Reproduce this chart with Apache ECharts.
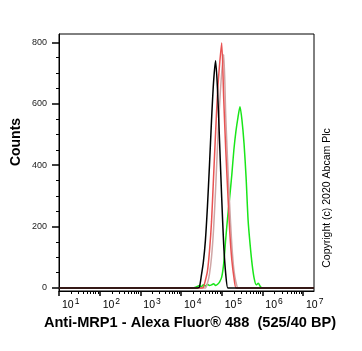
<!DOCTYPE html>
<html>
<head>
<meta charset="utf-8">
<script src="https://cdn.jsdelivr.net/npm/echarts@6/dist/echarts.min.js"></script>
<style>
  html, body { margin: 0; padding: 0; background: #fff; }
  #chart { width: 362px; height: 351px; }
</style>
</head>
<body>
<div id="chart"></div>
<script>
// histogram overlay, x in log10(fluorescence) units
var bins = [1.00, 4.30, 4.35, 4.40, 4.45, 4.50, 4.55, 4.60, 4.65, 4.70, 4.75, 4.80, 4.85, 4.90, 4.95,
  5.00, 5.05, 5.10, 5.15, 5.20, 5.25, 5.30, 5.35, 5.40, 5.45, 5.50, 5.55, 5.60, 5.65, 5.70,
  5.75, 5.80, 5.85, 5.90, 5.95, 6.00, 6.05, 6.10, 6.15, 6.20, 7.27];

var blackCounts = [0, 0, 0, 0, 2, 40, 85, 155, 265, 400, 545, 670, 740, 640, 470,
  295, 140, 45, 0, 0, 0, 0, 0, 0, 0, 0, 0, 0, 0, 0,
  0, 0, 0, 0, 0, 0, 0, 0, 0, 0, 0];
var redCounts = [0, 0, 0, 0, 0, 0, 2, 25, 55, 120, 215, 360, 505, 640, 730,
  798, 615, 450, 310, 180, 90, 35, 0, 0, 0, 0, 0, 0, 0, 0,
  0, 0, 0, 0, 0, 0, 0, 0, 0, 0, 0];
var greyCounts = [0, 0, 0, 0, 0, 0, 0, 0, 15, 45, 100, 190, 320, 470, 600,
  700, 760, 560, 400, 260, 140, 60, 20, 0, 0, 0, 0, 0, 0, 0,
  0, 0, 0, 0, 0, 0, 0, 0, 0, 0, 0];
var greenCounts = [0, 0, 2, 5, 8, 4, 10, 6, 12, 8, 10, 14, 8, 12, 20,
  35, 80, 160, 235, 300, 370, 450, 510, 555, 590, 545, 470, 360, 220, 140,
  75, 30, 10, 15, 5, 0, 0, 0, 0, 0, 0];

var decades = [1, 2, 3, 4, 5, 6, 7];
var yMajor = [0, 200, 400, 600, 800];
var yMinor = [50, 100, 150, 250, 300, 350, 450, 500, 550, 650, 700, 750];

var xMinor = [];
decades.forEach(function (d) {
  for (var k = 2; k <= 9; k++) {
    var v = d + Math.log10(k);
    if (v <= 7.27) xMinor.push(v);
  }
});

function pairs(counts) {
  return bins.map(function (b, i) { return [b, counts[i]]; });
}

var chart = echarts.init(document.getElementById('chart'));

function lineSeries(counts, color, z) {
  return {
    type: 'line',
    data: pairs(counts),
    showSymbol: false,
    smooth: 0.25,
    z: z,
    lineStyle: { color: color, width: 1.5 },
    xAxisIndex: 0,
    yAxisIndex: 0
  };
}

chart.setOption({
  animation: false,
  grid: {
    left: 59, top: 34, right: 48, bottom: 60,
    show: true, borderColor: '#000', borderWidth: 1
  },
  xAxis: [{
    type: 'value',
    min: 1, max: 7.27,
    position: 'bottom',
    splitLine: { show: false },
    axisLine: { onZero: false, lineStyle: { color: '#000', width: 1 } },
    axisTick: { customValues: decades, length: 5, lineStyle: { color: '#000', width: 1.5 } },
    axisLabel: {
      customValues: decades,
      align: 'left',
      margin: 6,
      padding: [0, 0, 0, 3],
      formatter: function (v) { return '{b|10}{s|' + Math.round(v) + '}'; },
      rich: {
        b: { fontFamily: 'Arial', fontSize: 10.5, color: '#000', verticalAlign: 'bottom', lineHeight: 14 },
        s: { fontFamily: 'Arial', fontSize: 8.5, color: '#000', verticalAlign: 'top', padding: [0, 0, 6, 1], lineHeight: 14 }
      }
    }
  }, {
    type: 'value',
    min: 1, max: 7.27,
    position: 'bottom',
    splitLine: { show: false },
    axisLine: { show: false, onZero: false },
    axisTick: { customValues: xMinor, length: 3, lineStyle: { color: '#000', width: 1 } },
    axisLabel: { show: false }
  }],
  yAxis: [{
    type: 'value',
    min: -10, max: 827,
    position: 'left',
    splitLine: { show: false },
    axisLine: { show: true, lineStyle: { color: '#000', width: 1 } },
    axisTick: { customValues: yMajor, length: 7, lineStyle: { color: '#000', width: 1.5 } },
    axisLabel: {
      customValues: yMajor,
      margin: 12,
      fontFamily: 'Arial', fontSize: 9, color: '#222'
    }
  }, {
    type: 'value',
    min: -10, max: 827,
    position: 'left',
    offset: 0,
    splitLine: { show: false },
    axisLine: { show: false },
    axisTick: { customValues: yMinor, length: 3, lineStyle: { color: '#000', width: 1 } },
    axisLabel: { show: false }
  }],
  series: [
    lineSeries(greenCounts, '#19e619', 3),
    lineSeries(greyCounts, '#cfa6a6', 4),
    lineSeries(redCounts, '#e85252', 5),
    lineSeries(blackCounts, '#000000', 6)
  ],
  graphic: [{
    type: 'text',
    x: 16, y: 142,
    rotation: Math.PI / 2,
    style: {
      text: 'Counts', align: 'center', verticalAlign: 'middle',
      font: 'bold 14px Arial', fill: '#000'
    }
  }, {
    type: 'text',
    x: 190, y: 323,
    style: {
      text: 'Anti-MRP1 - Alexa Fluor\u00ae 488  (525/40 BP)', align: 'center', verticalAlign: 'middle',
      font: 'bold 14.6px Arial', fill: '#000'
    }
  }, {
    type: 'text',
    x: 327, y: 198,
    rotation: Math.PI / 2,
    style: {
      text: 'Copyright (c) 2020 Abcam Plc', align: 'center', verticalAlign: 'middle',
      font: '10.5px Arial', fill: '#000'
    }
  }]
});
</script>
</body>
</html>
